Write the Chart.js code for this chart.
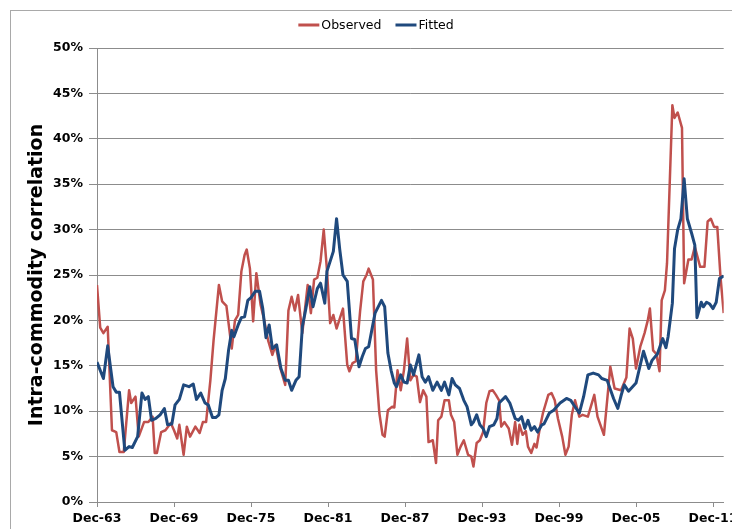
<!DOCTYPE html>
<html><head><meta charset="utf-8">
<script src="https://cdn.jsdelivr.net/npm/chart.js@4.4.0/dist/chart.umd.min.js"></script>
<style>html,body{margin:0;padding:0;background:#fff}#wrap{position:relative;width:732px;height:529px}</style>
</head><body><div id="wrap"><canvas id="c" width="732" height="529"></canvas></div>
<script>
// Months counted from Dec-1963
const obsMonths=[0,3,6,10,14,18,21,25,30,32,36,39,44,48,52,54,56,60,64,69,72,75,77,81,84,87,92,96,99,102,106,109,114,117,121,123,126,129,132,135,138,140,143,146,149,153,156,160,164,167,171,176,179,182,185,188,192,197,200,203,206,209,212,215,218,221,224,230,234,236,239,242,246,249,252,254,258,261,264,267,269,272,276,278,281,284,287,290,293,296,299,302,305,308,310,314,317,319,322,325,329,331,334,337,340,343,347,350,352,355,358,361,364,367,370,373,376,378,381,385,388,391,393,395,398,401,403,406,409,411,414,417,422,425,428,431,435,438,441,444,447,451,454,459,465,468,474,480,484,490,495,498,501,504,508,512,515,517,520,523,526,528,531,533,538,540,543,547,549,553,556,559,564,568,571,574,577,580,583,586];
const obsValues=[23.9,19.2,18.6,19.3,7.9,7.7,5.5,5.5,12.3,10.9,11.6,7.2,8.8,8.8,9.4,5.4,5.4,7.7,7.9,8.7,7.9,7.0,8.5,5.2,8.3,7.2,8.3,7.6,8.8,8.8,13.4,17.8,23.9,22.1,21.6,19.7,16.9,20.0,20.6,25.4,27.2,27.8,25.7,19.9,25.2,21.7,20.2,17.8,16.2,17.3,14.9,12.9,21.1,22.6,21.1,22.8,18.6,23.9,20.8,24.5,24.7,26.5,30.0,25.6,19.7,20.6,19.1,21.3,15.1,14.4,15.3,15.5,21.0,24.3,25.0,25.7,24.5,14.5,9.8,7.4,7.2,10.1,10.5,10.4,14.5,12.3,14.5,18.0,13.4,14.0,13.8,11.0,12.3,11.6,6.6,6.8,4.3,9.0,9.4,11.2,11.2,9.6,8.8,5.2,6.1,6.8,5.2,5.0,3.9,6.5,6.8,7.7,10.9,12.2,12.3,11.8,11.2,8.3,8.8,8.1,6.3,8.8,6.4,8.5,7.4,7.8,6.1,5.4,6.4,6.0,8.1,9.8,11.8,12.0,11.2,9.2,7.2,5.2,6.1,9.6,11.2,9.4,9.6,9.4,11.8,9.4,7.4,14.9,12.5,12.3,13.7,19.1,18.0,14.7,17.1,18.6,20.0,21.3,16.7,16.3,14.4,22.2,23.3,26.3,43.7,42.3,42.9,41.2,24.1,26.7,26.7,28.1,25.9,25.9,30.9,31.2,30.3,30.3,24.8,20.8];
const fitMonths=[0,6,10,15,18,21,26,30,33,38,42,45,48,51,55,59,63,66,70,73,77,81,86,90,93,97,101,104,108,111,114,117,120,123,126,128,132,135,138,141,144,148,152,155,158,161,164,168,172,176,179,182,186,189,192,195,199,202,206,209,213,215,221,224,227,230,234,238,241,245,248,251,254,260,266,269,272,275,278,280,284,287,290,293,296,301,304,307,310,314,318,322,325,329,332,335,339,343,346,350,352,355,358,361,364,367,371,374,376,382,386,391,394,397,400,403,406,409,412,416,418,423,427,433,439,443,448,451,455,459,464,469,472,477,483,487,490,493,497,504,511,516,519,524,529,532,534,538,540,543,546,549,552,556,559,561,565,567,570,573,576,579,582,586];
const fitValues=[15.4,13.6,17.2,12.7,12.1,12.1,5.7,6.1,6.0,7.2,12.0,11.3,11.6,9.0,9.2,9.6,10.3,8.5,8.6,10.7,11.3,12.9,12.7,13.0,11.3,12.0,10.9,10.7,9.3,9.3,9.6,12.3,13.6,16.7,18.9,18.2,19.5,20.3,20.4,22.2,22.5,23.2,23.2,21.3,18.1,19.5,16.9,17.3,14.7,13.4,13.4,12.3,13.4,13.8,19.3,21.1,23.7,21.5,23.5,24.1,21.9,25.4,27.6,31.2,27.8,25.0,24.3,18.0,17.9,14.9,16.0,16.9,17.1,20.8,22.2,21.5,16.4,14.5,13.1,12.7,14.0,13.2,13.1,15.1,14.0,16.2,13.8,13.2,13.8,12.3,13.2,12.3,13.2,11.8,13.6,12.9,12.5,11.2,10.5,8.5,8.8,9.6,8.5,8.1,7.2,8.3,8.5,9.2,10.9,11.6,10.9,9.2,9.0,9.4,8.1,9.0,7.9,8.3,7.7,8.5,8.6,9.8,10.1,10.9,11.4,11.2,10.3,9.8,11.6,14.0,14.2,14.0,13.6,13.4,11.4,10.3,11.7,12.9,12.2,13.1,16.6,14.7,15.6,16.3,18.0,17.0,18.2,21.9,27.9,30.0,31.2,35.6,31.2,29.6,28.3,20.3,22.0,21.5,22.0,21.8,21.3,22.0,24.6,24.9];
const seriesNames=['Observed','Fitted'];
const seriesColors=['#C0504D','#1F497D'];
const startYear=1963;      // first tick label year (December)
const labelStepMonths=72;  // six years between tick labels
const yMin=0, yMax=50, yStep=5;
const yTitle='Intra-commodity correlation';

const tickFont={family:'"DejaVu Sans", Verdana, sans-serif',size:12.5,weight:'bold'};
const gridColor='#8c8c8c';

const framePlugin={id:'frame',beforeDraw(chart){const c=chart.ctx;c.save();c.strokeStyle='#a9a9a9';c.lineWidth=1;c.strokeRect(10.5,10.5,800,600);c.restore();}};
const legendPlugin={id:'customLegend',afterDraw(chart){
  const c=chart.ctx;c.save();
  c.font='12.5px "DejaVu Sans", Verdana, sans-serif';c.textBaseline='middle';c.fillStyle='#000';
  const sw=21,gap=2,sp=14;
  const items=chart.data.datasets.map(d=>({t:d.label,col:d.borderColor,w:c.measureText(d.label).width}));
  let total=items.reduce((a,it)=>a+sw+gap+it.w,0)+sp*(items.length-1);
  let x=376-total/2;const y=25;
  items.forEach(it=>{c.strokeStyle=it.col;c.lineWidth=3;c.beginPath();c.moveTo(x,y);c.lineTo(x+sw,y);c.stroke();
    c.fillText(it.t,x+sw+gap,y+0.5);x+=sw+gap+it.w+sp;});
  c.restore();}};

new Chart(document.getElementById('c'),{
  type:'line',
  data:{datasets:[
    {label:seriesNames[0],data:obsMonths.map((m,i)=>({x:m,y:obsValues[i]})),borderColor:seriesColors[0],backgroundColor:seriesColors[0],borderWidth:2.5,pointRadius:0,tension:0,order:1,borderJoinStyle:'round'},
    {label:seriesNames[1],data:fitMonths.map((m,i)=>({x:m,y:fitValues[i]})),borderColor:seriesColors[1],backgroundColor:seriesColors[1],borderWidth:3,pointRadius:0,tension:0,order:0,borderJoinStyle:'round'}
  ]},
  options:{
    responsive:false,animation:false,devicePixelRatio:1,
    layout:{padding:{left:20,right:8.3,top:48,bottom:0}},
    plugins:{legend:{display:false},tooltip:{enabled:false}},
    scales:{
      x:{type:'linear',min:0,max:586,
        afterBuildTicks(s){s.ticks=[];for(let m=0;m<=s.max;m+=labelStepMonths)s.ticks.push({value:m});},
        afterFit(s){s.height=27;s.paddingLeft=0;s.paddingRight=0;},
        ticks:{autoSkip:false,maxRotation:0,minRotation:0,color:'#000',font:tickFont,padding:4,
          callback:v=>'Dec-'+String((startYear+v/12)%100).padStart(2,'0')},
        grid:{display:true,drawOnChartArea:false,drawTicks:true,tickLength:5,color:gridColor},
        border:{display:true,color:gridColor,width:1}},
      y:{min:yMin,max:yMax,
        afterFit(s){s.width=77;s.paddingTop=0;s.paddingBottom=0;},
        ticks:{stepSize:yStep,color:'#000',font:tickFont,padding:6,callback:v=>v+'%'},
        grid:{color:gridColor,lineWidth:1,tickLength:8},
        border:{display:true,color:gridColor,width:1},
        title:{display:true,text:yTitle,color:'#000',font:{family:'"DejaVu Sans", Verdana, sans-serif',size:19,weight:'bold'},padding:{top:6,bottom:0}}}
    }
  },
  plugins:[framePlugin,legendPlugin]
});
</script></body></html>
